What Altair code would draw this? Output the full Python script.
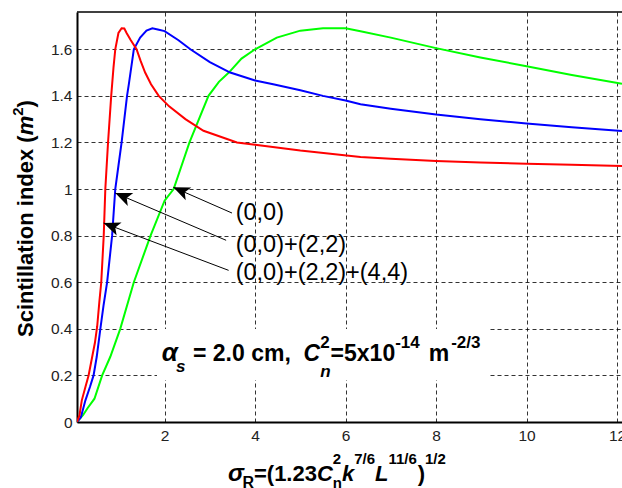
import math
import altair as alt
import pandas as pd

FONT = "Liberation Sans"

# ---------------- data ----------------
series_names = ["(0,0)", "(0,0)+(2,2)", "(0,0)+(2,2)+(4,4)"]
series_colors = ["#00ff00", "#0000ff", "#ff0000"]

green_x = [0.064, 0.2, 0.3, 0.45, 0.62, 0.8, 1.02, 1.32, 1.69, 2.0, 2.2, 2.55, 2.97, 3.2, 3.42,
           3.7, 4.0, 4.48, 5.0, 5.5, 6.0, 6.33, 7.0, 8.0, 8.98, 10.0, 11.0, 12.11]
green_y = [0.0, 0.03, 0.06, 0.1, 0.2, 0.28, 0.4, 0.6, 0.8, 0.95, 1.0, 1.2, 1.4, 1.46, 1.5,
           1.56, 1.6, 1.65, 1.68, 1.69, 1.69, 1.677, 1.65, 1.605, 1.565, 1.527, 1.49, 1.452]

blue_x = [0.064, 0.15, 0.25, 0.35, 0.43, 0.5, 0.58, 0.65, 0.73, 0.84, 0.91, 0.98, 1.05, 1.17,
          1.21, 1.32, 1.46, 1.6, 1.73, 1.85, 2.0, 2.3, 2.57, 3.0, 3.45, 4.0, 4.4, 5.0, 5.5, 6.0,
          6.33, 7.0, 8.0, 8.98, 10.0, 11.0, 12.11]
blue_y = [0.0, 0.02, 0.093, 0.15, 0.2, 0.28, 0.4, 0.5, 0.6, 0.8, 1.0, 1.1, 1.2, 1.4,
          1.45, 1.6, 1.65, 1.68, 1.69, 1.685, 1.678, 1.64, 1.6, 1.545, 1.5, 1.466, 1.45, 1.424, 1.4, 1.38,
          1.364, 1.345, 1.32, 1.30, 1.281, 1.265, 1.249]

red_x = [0.064, 0.12, 0.17, 0.25, 0.32, 0.4, 0.46, 0.51, 0.56, 0.6, 0.655, 0.69, 0.75, 0.82,
         0.87, 0.91, 0.98, 1.05, 1.11, 1.16, 1.25, 1.38, 1.47, 1.57, 1.7, 1.87, 2.1, 2.46, 2.86,
         3.6, 4.0, 5.0, 6.33, 7.0, 8.0, 8.98, 10.0, 11.0, 12.11]
red_y = [0.0, 0.03, 0.093, 0.15, 0.2, 0.28, 0.34, 0.41, 0.52, 0.6, 0.8, 1.0, 1.2, 1.4,
         1.52, 1.6, 1.67, 1.69, 1.689, 1.67, 1.64, 1.6, 1.55, 1.5, 1.45, 1.4, 1.355, 1.3, 1.25,
         1.2, 1.19, 1.165, 1.138, 1.13, 1.12, 1.114, 1.109, 1.104, 1.099]

x_ticks = [2, 4, 6, 8, 10, 12]
y_ticks = [0, 0.2, 0.4, 0.6, 0.8, 1.0, 1.2, 1.4, 1.6]

# arrows: tail (x0,y0) -> tip (x1,y1), data coordinates
arrow_x0 = [3.49, 3.36, 3.415]
arrow_y0 = [0.897, 0.78, 0.651]
arrow_x1 = [2.193, 0.91, 0.652]
arrow_y1 = [1.0075, 0.983, 0.854]

rows = []
for name, xs, ys in zip(series_names, [green_x, blue_x, red_x], [green_y, blue_y, red_y]):
    for xv, yv in zip(xs, ys):
        rows.append({"series": name, "x": xv, "y": yv})
df = pd.DataFrame(rows)

# ---------------- layout ----------------
W, H = 545, 410
XMIN, XMAX, YMAX = 0.064, 12.11, 1.76
SX = W / (XMAX - XMIN)
SY = H / YMAX

xscale = alt.Scale(domain=[XMIN, XMAX], nice=False, zero=False)
yscale = alt.Scale(domain=[0, YMAX], nice=False, zero=False)

common_axis = dict(
    title=None, grid=True, gridDash=[4, 3], gridColor="#000000", gridWidth=1, gridOpacity=0.8,
    domainColor="#000000", domainWidth=2, ticks=False, labelFont=FONT, labelFontSize=15.5,
    labelColor="#222222", labelFlush=False, labelOverlap=False, format="~g",
)

lines = alt.Chart(df).mark_line(strokeWidth=2, clip=True).encode(
    x=alt.X("x:Q", scale=xscale, axis=alt.Axis(values=x_ticks, labelPadding=6, **common_axis)),
    y=alt.Y("y:Q", scale=yscale, axis=alt.Axis(values=y_ticks, labelPadding=5, **common_axis)),
    color=alt.Color("series:N", scale=alt.Scale(domain=series_names, range=series_colors), legend=None),
    order=alt.Order("x:Q"),
)

# arrows
angles = []
for x0, y0, x1, y1 in zip(arrow_x0, arrow_y0, arrow_x1, arrow_y1):
    dxp = (x1 - x0) * SX
    dyp = -(y1 - y0) * SY
    angles.append(math.degrees(math.atan2(dxp, -dyp)) % 360)
adf = pd.DataFrame({"x0": arrow_x0, "y0": arrow_y0, "x1": arrow_x1, "y1": arrow_y1, "ang": angles})

shafts = alt.Chart(adf).mark_rule(color="black", strokeWidth=1).encode(
    x=alt.X("x0:Q", scale=xscale, title=None),
    y=alt.Y("y0:Q", scale=yscale, title=None),
    x2="x1:Q", y2="y1:Q",
)
heads = alt.Chart(adf).mark_point(
    shape="M0,0 L-0.42,1 L0,0.75 L0.42,1 Z", filled=True, color="black", opacity=1, size=1100, strokeWidth=0
).encode(
    x=alt.X("x1:Q", scale=xscale, title=None),
    y=alt.Y("y1:Q", scale=yscale, title=None),
    angle=alt.Angle("ang:Q", scale=None),
)

dummy = pd.DataFrame({"a": [0]})


def txt(s, x, y, size, weight="normal", style="normal", align="left", angle=0, baseline="alphabetic"):
    return alt.Chart(dummy).mark_text(
        text=s, font=FONT, fontSize=size, fontWeight=weight, fontStyle=style, align=align,
        baseline=baseline, angle=angle, color="black",
    ).encode(x=alt.value(x), y=alt.value(y))


# approximate Liberation Sans Bold advance widths (em)
WID = {"0": .556, "1": .556, "2": .556, "3": .556, "4": .556, "5": .556, "6": .556, "7": .556,
       "8": .556, "9": .556, ".": .278, ",": .278, "=": .584, "(": .333, ")": .333, "/": .278,
       "-": .333, " ": .278, "x": .556, "c": .556, "m": .889, "C": .722, "n": .611, "k": .556,
       "L": .611, "R": .722, "s": .556, "σ": .6, "α": .62}


def wid(s, size):
    return sum(WID.get(ch, .6) for ch in s) * size


def rich(pieces, x_start, base_y, sup_y, sub_y):
    """pieces: (text, kind, size, style); kind in main/sup/sub/supsub/gap."""
    out = []
    x = x_start
    for text, kind, size, style in pieces:
        if kind == "gap":
            x += size
        elif kind in ("main", "sup", "sub"):
            yy = {"main": base_y, "sup": sup_y, "sub": sub_y}[kind]
            out.append(txt(text, x, yy, size, "bold", style))
            x += wid(text, size)
        elif kind == "supsub":
            sup_t, sub_t, sub_style = text
            out.append(txt(sup_t, x, sup_y, size, "bold"))
            out.append(txt(sub_t, x, sub_y, size, "bold", sub_style))
            x += max(wid(sup_t, size), wid(sub_t, size))
    return out


box = alt.Chart(dummy).mark_rect(fill="white", stroke=None).encode(
    x=alt.value(80), x2=alt.value(412), y=alt.value(317), y2=alt.value(368)
)
top_border = alt.Chart(dummy).mark_rule(color="black", strokeWidth=1.5).encode(
    x=alt.value(0), x2=alt.value(W), y=alt.value(0)
)

labels = [
    txt("(0,0)", 158.7, 201, 23.5, baseline="middle"),
    txt("(0,0)+(2,2)", 158.7, 232.7, 23.5, baseline="middle"),
    txt("(0,0)+(2,2)+(4,4)", 158.7, 261.3, 23.5, baseline="middle"),
]

# box annotation: alpha_s = 2.0 cm,  C_n^2=5x10^-14 m^-2/3
box_text = [
    txt("α", 84.7, 349, 26, "bold", "italic"),
    txt("s", 99, 360, 17, "bold", "italic"),
] + rich([
    ("= 2.0 cm,  ", "main", 23, "normal"),
    ("C", "main", 23, "italic"),
    (("2", "n", "italic"), "supsub", 17, "normal"),
    ("=5x10", "main", 23, "normal"),
    ("-14", "sup", 17, "normal"),
    ("", "gap", 9, "normal"),
    ("m", "main", 23, "normal"),
    ("", "gap", 2, "normal"),
    ("-2/3", "sup", 17, "normal"),
], 116, 349, 336, 365)

# x title: sigma_R=(1.23 C_n^2 k^7/6 L^11/6)^1/2
x_title = rich([
    ("σ", "main", 24, "italic"),
    ("R", "sub", 16, "normal"),
    ("=(1.23", "main", 22, "normal"),
    ("C", "main", 22, "italic"),
    (("2", "n", "normal"), "supsub", 15, "normal"),
    ("k", "main", 22, "italic"),
    ("7/6", "sup", 15, "normal"),
    ("L", "main", 22, "italic"),
    ("11/6", "sup", 15, "normal"),
    (")", "main", 22, "normal"),
    ("1/2", "sup", 15, "normal"),
], 151, 469, 452, 476)

y_title = [
    txt("Scintillation index (", -44, 325, 22, "bold", angle=270),
    txt("m", -44, 123.3, 22, "bold", "italic", angle=270),
    txt("2", -54, 103.7, 15, "bold", angle=270),
    txt(")", -44, 95.4, 22, "bold", angle=270),
]

chart = alt.layer(
    box, lines, shafts, heads, top_border, *labels, *box_text, *x_title, *y_title
).properties(
    width=W, height=H,
    padding={"left": 77, "top": 12, "right": 0, "bottom": 66},
    autosize=alt.AutoSizeParams(type="none"),
    background="white",
).configure_view(stroke=None)

chart.save("out.html", embed_options={"renderer": "svg", "actions": False})
